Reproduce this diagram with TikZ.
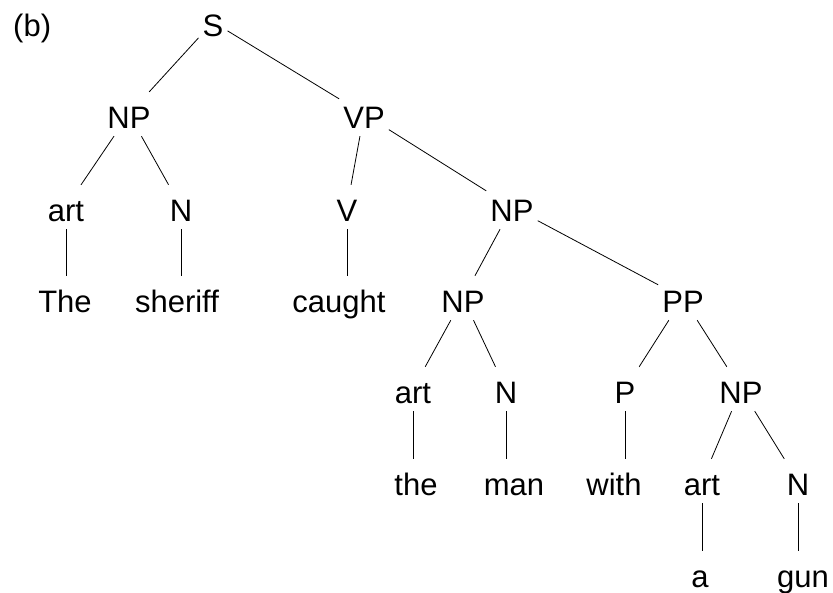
\documentclass[tikz,border=0pt]{standalone}
\usepackage{fontspec}
\setmainfont{Liberation Sans}
\begin{document}
\begin{tikzpicture}[x=1pt,y=-1pt,
  cat/.style={anchor=base, font=\fontsize{31}{36}\selectfont,
    text height=28pt, text depth=0pt, inner xsep=4pt, inner ysep=8pt},
  edge/.style={draw=black, line width=0.8pt},
  every node/.style={cat}]
\useasboundingbox (0,0) rectangle (833,592);

\node[anchor=base west, inner xsep=0pt] (lbl) at (13,36) {(b)};

% categories and words, placed by baseline
\node (s)    at (213,36)  {S};
\node (np1)  at (129,128) {NP};
\node (vp)   at (364,128) {VP};
\node (art1) at (66,221)  {art};
\node (n1)   at (181,221) {N};
\node (v)    at (347,221) {V};
\node (np2)  at (512,221) {NP};
\node (w1)   at (65,312)  {The};
\node (w2)   at (177,312) {sheriff};
\node (w3)   at (339,312) {caught};
\node (np3)  at (463,312) {NP};
\node (pp)   at (683,312) {PP};
\node (art2) at (413,403) {art};
\node (n2)   at (506,403) {N};
\node (p)    at (625,403) {P};
\node (np4)  at (741,403) {NP};
\node (w4)   at (416,495) {the};
\node (w5)   at (514,495) {man};
\node (w6)   at (614,495) {with};
\node (art3) at (702,495) {art};
\node (n3)   at (798,495) {N};
\node (w7)   at (700,587) {a};
\node (w8)   at (803,587) {gun};

% branching edges
\draw[edge] (s) -- (np1);
\draw[edge] (s) -- (vp);
\draw[edge] (np1) -- (art1);
\draw[edge] (np1) -- (n1);
\draw[edge] (vp) -- (v);
\draw[edge] (vp) -- (np2);
\draw[edge] (np2) -- (np3);
\draw[edge] (np2) -- (pp);
\draw[edge] (np3) -- (art2);
\draw[edge] (np3) -- (n2);
\draw[edge] (pp) -- (p);
\draw[edge] (pp) -- (np4);
\draw[edge] (np4) -- (art3);
\draw[edge] (np4) -- (n3);

% unary edges, straight down
\foreach \a/\b in {art1/w1, n1/w2, v/w3, art2/w4, n2/w5, p/w6, art3/w7, n3/w8}
  \draw[edge] (\a.south) -- (\a.south |- \b.north);
\end{tikzpicture}
\end{document}
